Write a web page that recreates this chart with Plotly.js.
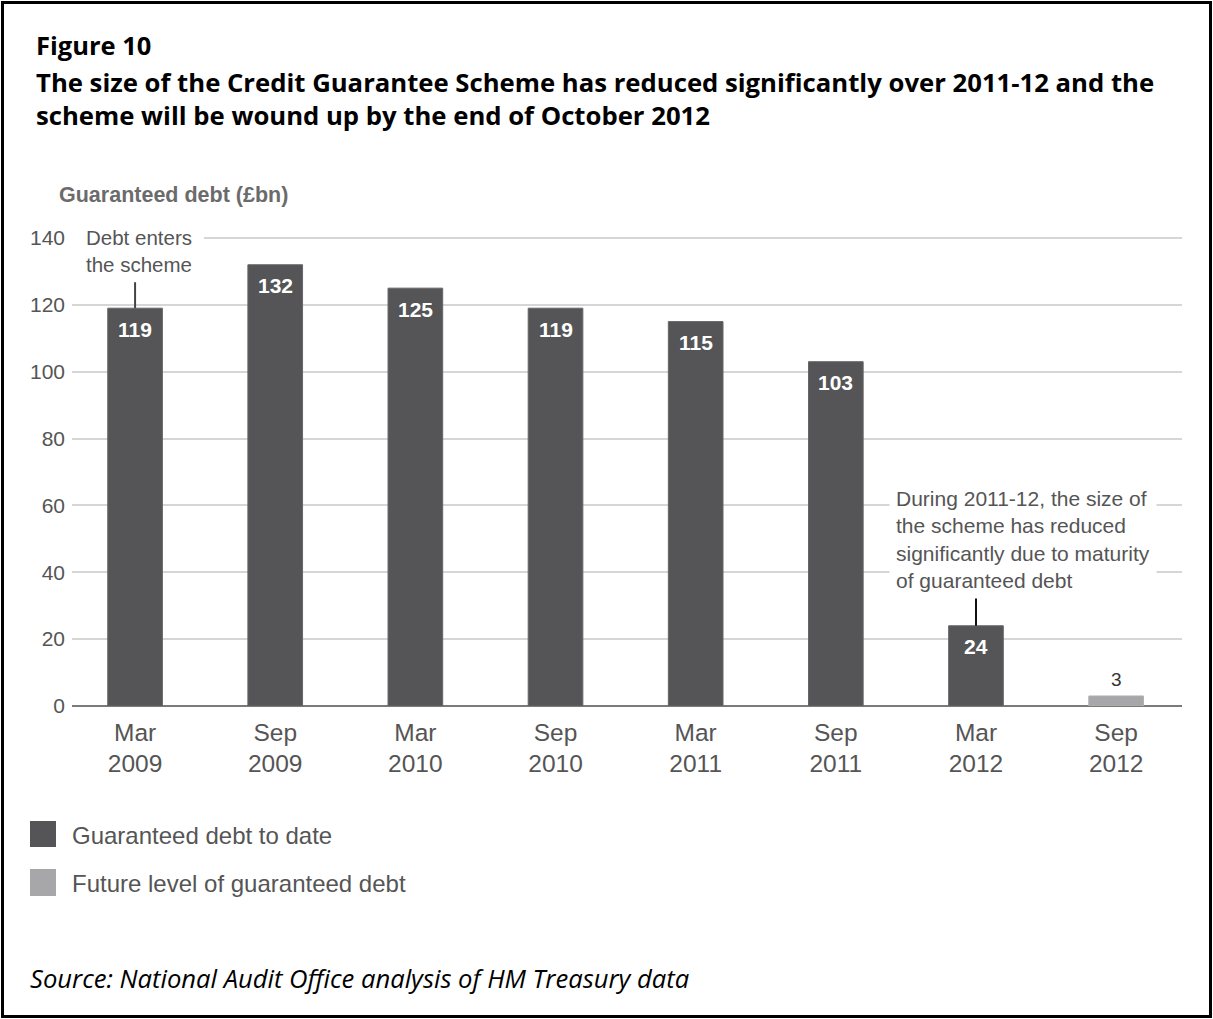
<!DOCTYPE html>
<html>
<head>
<meta charset="utf-8">
<script src="https://cdn.plot.ly/plotly-3.0.1.min.js"></script>
<style>
html,body{margin:0;padding:0;background:#fff;}
#chart{width:1213px;height:1019px;}
</style>
</head>
<body>
<div id="chart"></div>
<script>
// ---- data ----
const categories = ["Mar<br>2009","Sep<br>2009","Mar<br>2010","Sep<br>2010","Mar<br>2011","Sep<br>2011","Mar<br>2012","Sep<br>2012"];
const debtToDate = [119, 132, 125, 119, 115, 103, 24];
const futureDebt = [3];
const yTicks = [0, 20, 40, 60, 80, 100, 120, 140];
const seriesNames = ["Guaranteed debt to date", "Future level of guaranteed debt"];

const W = 1213, H = 1019;
const L = 72, R = 1182, T = 236, B = 706;
const px = x => (x - L) / (R - L);
const py = y => (B - y) / (B - T);

const darkCol = '#555557', lightCol = '#a7a7aa';
const sans = 'Liberation Sans, Arial, sans-serif';
const titleFont = 'Open Sans, Noto Sans, sans-serif';

const darkX = categories.slice(0, debtToDate.length);
const lightX = categories.slice(debtToDate.length);

const traces = [
  {type:'bar', name:seriesNames[0], x:darkX, y:debtToDate, width:0.39,
   marker:{color:darkCol, line:{color:'#666668', width:1}}, hoverinfo:'skip', showlegend:false},
  {type:'bar', name:seriesNames[1], x:lightX, y:futureDebt, width:0.39,
   marker:{color:lightCol, line:{color:'#b0b0b3', width:1}}, hoverinfo:'skip', showlegend:false}
];

const annotations = [];
// value labels
darkX.forEach((c, i) => annotations.push({x:c, y:debtToDate[i], xref:'x', yref:'y', text:'<b>' + debtToDate[i] + '</b>',
  showarrow:false, yanchor:'middle', yshift:-21, font:{family:sans, size:21, color:'#ffffff'}}));
lightX.forEach((c, i) => annotations.push({x:c, y:futureDebt[i], xref:'x', yref:'y', text:String(futureDebt[i]),
  showarrow:false, yanchor:'middle', yshift:16, font:{family:sans, size:19, color:'#333333'}}));

// titles
annotations.push({xref:'paper', yref:'paper', x:px(34), y:py(45), xanchor:'left', yanchor:'middle', showarrow:false,
  text:'<b>Figure 10</b>', font:{family:titleFont, size:25.5, color:'#000'}});
annotations.push({xref:'paper', yref:'paper', x:px(34), y:py(99), xanchor:'left', yanchor:'middle', showarrow:false, align:'left',
  text:'<b>The size of the Credit Guarantee Scheme has reduced significantly over 2011-12 and the<br>scheme will be wound up by the end of October 2012</b>',
  font:{family:titleFont, size:25.7, color:'#000'}});
annotations.push({xref:'paper', yref:'paper', x:px(57), y:py(195), xanchor:'left', yanchor:'middle', showarrow:false,
  text:'<b>Guaranteed debt (£bn)</b>', font:{family:sans, size:21.5, color:'#6b6b6b'}});
// callouts
annotations.push({xref:'paper', yref:'paper', x:px(83), y:py(251), xanchor:'left', yanchor:'middle', showarrow:false, align:'left',
  text:'Debt enters<br>the scheme', bgcolor:'#ffffff', borderpad:2, font:{family:sans, size:20.5, color:'#555555'}});
annotations.push({xref:'paper', yref:'paper', x:px(889), y:py(539), xanchor:'left', yanchor:'middle', showarrow:false, align:'left',
  text:'During 2011-12, the size of<br>the scheme has reduced<br>significantly due to maturity<br>of guaranteed debt', bgcolor:'#ffffff', borderpad:6,
  font:{family:sans, size:21, color:'#555555'}});
// legend text
annotations.push({xref:'paper', yref:'paper', x:px(70), y:py(835), xanchor:'left', yanchor:'middle', showarrow:false,
  text:seriesNames[0], font:{family:sans, size:24, color:'#555555'}});
annotations.push({xref:'paper', yref:'paper', x:px(70), y:py(883), xanchor:'left', yanchor:'middle', showarrow:false,
  text:seriesNames[1], font:{family:sans, size:24, color:'#555555'}});
// source
annotations.push({xref:'paper', yref:'paper', x:px(28), y:py(978), xanchor:'left', yanchor:'middle', showarrow:false,
  text:'<i>Source: National Audit Office analysis of HM Treasury data</i>', font:{family:titleFont, size:25.6, color:'#000'}});

const shapes = [
  // white gap in top gridline behind the callout
  {type:'rect', xref:'paper', yref:'paper', x0:px(70), x1:px(204), y0:py(243), y1:py(233), fillcolor:'#ffffff', line:{width:0}, layer:'above'},
  // leader lines anchored to bar tops
  {type:'line', xref:'x', yref:'y', x0:darkX[0], x1:darkX[0], ysizemode:'pixel', yanchor:debtToDate[0], y0:0, y1:26,
   line:{color:'#444444', width:2}},
  {type:'line', xref:'x', yref:'y', x0:darkX[6], x1:darkX[6], ysizemode:'pixel', yanchor:debtToDate[6], y0:0, y1:28,
   line:{color:'#111111', width:2}},
  // legend swatches
  {type:'rect', xref:'paper', yref:'paper', x0:px(30), x1:px(56), y0:py(847), y1:py(821), fillcolor:darkCol, line:{width:0}},
  {type:'rect', xref:'paper', yref:'paper', x0:px(30), x1:px(56), y0:py(896), y1:py(869), fillcolor:lightCol, line:{width:0}},
  // figure border
  {type:'rect', xref:'paper', yref:'paper', x0:px(2.5), x1:px(1210.5), y0:py(1016.5), y1:py(2.5), line:{color:'#000', width:3}, layer:'above'}
];

const layout = {
  width:W, height:H,
  margin:{l:L, r:W-R, t:T, b:H-B, pad:0},
  paper_bgcolor:'#fff', plot_bgcolor:'#fff',
  barmode:'overlay',
  showlegend:false,
  xaxis:{type:'category', categoryorder:'array', categoryarray:categories, range:[-0.45, 7.47],
    showgrid:false, zeroline:false, showline:false, ticks:'', ticklabelstandoff:9,
    tickfont:{family:sans, size:24.5, color:'#555555'}, fixedrange:true},
  yaxis:{range:[0, 140.6], tickvals:yTicks, ticktext:yTicks.map(String), showgrid:true, gridcolor:'#d6d6d6', gridwidth:2,
    zeroline:true, zerolinecolor:'#7a7a7a', zerolinewidth:2, showline:false, ticks:'', ticklabelstandoff:6,
    tickfont:{family:sans, size:21, color:'#555555'}, fixedrange:true},
  annotations, shapes
};

Plotly.newPlot('chart', traces, layout, {displayModeBar:false, staticPlot:true});
</script>
</body>
</html>
